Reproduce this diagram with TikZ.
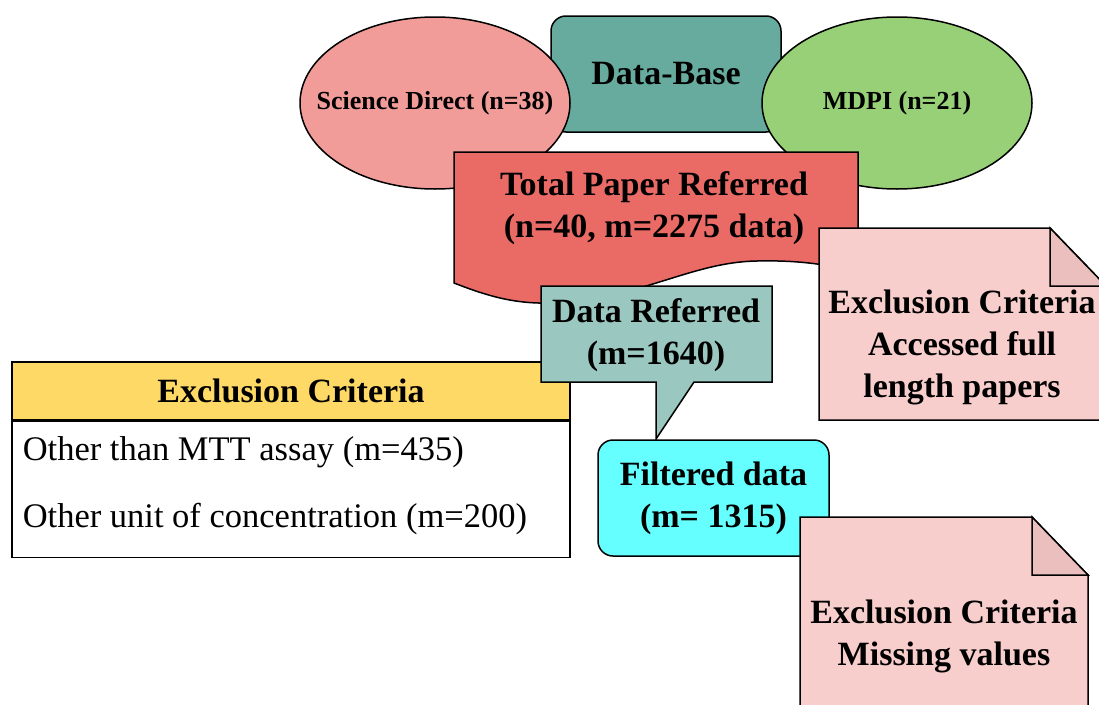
\documentclass[tikz,border=0pt]{standalone}
\usepackage{fontspec}
\setmainfont{Liberation Serif}
\usetikzlibrary{shapes.geometric}
\definecolor{sdpink}{HTML}{F19C99}
\definecolor{dbteal}{HTML}{67AB9F}
\definecolor{mdpigreen}{HTML}{97D077}
\definecolor{totalred}{HTML}{EA6B66}
\definecolor{refteal}{HTML}{9AC7BF}
\definecolor{crityellow}{HTML}{FFD966}
\definecolor{filtcyan}{HTML}{66FFFF}
\definecolor{notepink}{HTML}{F8CECC}
\definecolor{foldpink}{HTML}{EBBFBE}
\begin{document}
\begin{tikzpicture}[x=1pt,y=-1pt,line width=1.5pt,
  every node/.style={align=center,inner sep=0pt,font=\bfseries\fontsize{34}{42}\selectfont},
  box/.style={draw},
  src/.style={box,ellipse,minimum width=270pt,minimum height=172pt},
  srctext/.style={font=\bfseries\fontsize{26}{30}\selectfont},
  body/.style={anchor=base west,font=\fontsize{34.5}{42}\selectfont}]
\useasboundingbox (0,0) rectangle (1099,704);
\clip (0,0) rectangle (1099,704);
% data bases
\node[box,fill=dbteal,rounded corners=15pt,minimum width=230pt,minimum height=116pt] (db) at (666,74) {Data-Base};
\node[src,fill=sdpink] (sd) at (435,103) {};
\node[srctext] (sdtext) at (sd.center) {Science Direct (n=38)};
\node[src,fill=mdpigreen] (mdpi) at (897,103) {};
\node[srctext] (mdpitext) at (mdpi.center) {MDPI (n=21)};
% total papers (document shape)
\draw[fill=totalred] (454,152) -- (858,152) -- (858,272)
  .. controls (830,265) and (800,260) .. (757,261)
  .. controls (690,262) and (640,300) .. (548,303)
  .. controls (510,304) and (480,293) .. (454,283) -- cycle;
\node (total) at (654,208) {Total Paper Referred\\(n=40, m=2275 data)};
% first folded note
\draw[fill=notepink] (819,228) -- (1050,228) -- (1106,286) -- (1106,420) -- (819,420) -- cycle;
\draw[fill=foldpink] (1050,228) -- (1050,286) -- (1106,286) -- cycle;
\node (excl1) at (962,347) {Exclusion Criteria\\Accessed full\\length papers};
% exclusion table
\node[box,fill=crityellow,minimum width=558pt,minimum height=58pt] (crit) at (291,391) {Exclusion Criteria};
\node[box,fill=white,anchor=north,minimum width=558pt,minimum height=136pt] (critbody) at (crit.south) {};
\foreach \y/\txt in {460/Other than MTT assay (m=435),527/Other unit of concentration (m=200)}
  \node[body] (row\y) at (22,\y) {\txt};
% referred data callout
\draw[fill=refteal] (541,286) -- (772,286) -- (772,382) -- (694,382) -- (656,439) -- (656,382) -- (541,382) -- cycle;
\node (dref) at (656,335) {Data Referred\\(m=1640)};
\node[box,fill=filtcyan,rounded corners=15pt,minimum width=231pt,minimum height=116pt] (filt) at (713.5,498) {Filtered data\\(m= 1315)};
% second folded note, over the filtered box
\draw[fill=notepink] (800,517) -- (1032,517) -- (1088,575) -- (1088,760) -- (800,760) -- cycle;
\draw[fill=foldpink] (1032,517) -- (1032,575) -- (1088,575) -- cycle;
\node (excl2) at (944,636) {Exclusion Criteria\\Missing values};
\end{tikzpicture}
\end{document}
